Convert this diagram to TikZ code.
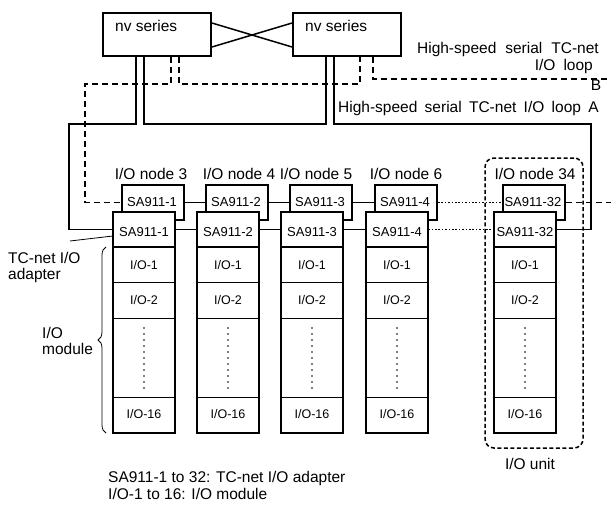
\documentclass[tikz,border=0pt]{standalone}
\usepackage{fontspec}
\setmainfont{Liberation Sans}
\usetikzlibrary{decorations.pathreplacing,calc}
\begin{document}
\begin{tikzpicture}[x=1pt,y=-1pt,
  thickbox/.style={draw, line width=1.9pt, fill=white, inner sep=0pt},
  conn/.style={line width=1.5pt},
  dconn/.style={line width=1.5pt, dash pattern=on 6pt off 4pt},
  dotconn/.style={line width=1.8pt, dash pattern=on 1.6pt off 1.8pt},
  big/.style={font=\fontsize{15.5}{18}\selectfont, inner sep=0pt},
  sa/.style={font=\fontsize{13}{15}\selectfont, inner sep=0pt, anchor=base},
  io/.style={font=\fontsize{12.5}{15}\selectfont, inner sep=0pt, anchor=base},
  sep/.style={line width=1pt},
]
\fill[white] (0,0) rectangle (611,506);
\useasboundingbox (0,0) rectangle (611,506);

% nv series boxes
\node[thickbox, minimum width=108pt, minimum height=43pt] (nv1) at (157,34.5) {};
\node[thickbox, minimum width=108pt, minimum height=43pt] (nv2) at (347,34.5) {};
\node[big, anchor=base west] (nv1t) at (115,31) {nv series};
\node[big, anchor=base west] (nv2t) at (305,31) {nv series};
\draw[conn] ([yshift=11.5pt]nv1.east) -- ([yshift=-12.5pt]nv2.west);
\draw[conn] ([yshift=-12.5pt]nv1.east) -- ([yshift=11.5pt]nv2.west);

% loop labels
\node[big, anchor=base east] (hs1) at (599,53) {High-speed\hspace{9pt}serial\hspace{9pt}TC-net};
\node[big, anchor=base east] (hs2) at (593,70) {I/O\hspace{8pt}loop};
\node[big, anchor=base] (Bl) at (596,90) {B};
\node[big, anchor=base west] (hsA) at (338,112) {High-speed\hspace{7.3pt}serial\hspace{7.3pt}TC-net\hspace{7.3pt}I/O\hspace{7.3pt}loop\hspace{7.3pt}A};

% columns
\foreach \L/\n/\t/\k/\lx in {113/1/1/3/151, 197/2/2/4/239, 281/3/3/5/316, 366/4/4/6/406, 494/5/32/34/535} {
  \node[thickbox, minimum width=62pt, minimum height=35pt] (u\n) at ({\L+40},202.5) {};
  \node[sa] (ut\n) at ({\L+39},206) {SA911-\t};
  \node[thickbox, minimum width=62pt, minimum height=221pt] (c\n) at ({\L+31},322.5) {};
  \node[inner sep=0pt, minimum width=62pt, minimum height=35pt] (l\n) at ({\L+31},229.5) {};
  \node[sa] (lt\n) at ({\L+31},236) {SA911-\t};
  \draw[line width=1.5pt] (\L,247) -- ({\L+62},247);
  \draw[sep] (\L,282) -- ({\L+62},282);
  \draw[sep] (\L,318) -- ({\L+62},318);
  \draw[sep] (\L,397) -- ({\L+62},397);
  \node[io] (a\n) at ({\L+31},269) {I/O-1};
  \node[io] (b\n) at ({\L+31},304) {I/O-2};
  \node[io] (d\n) at ({\L+31},418) {I/O-16};
  \draw[line width=1.9pt, dash pattern=on 0pt off 6pt, line cap=round] ({\L+31},328) -- ({\L+31},388);
  \node[big, anchor=base] (nl\n) at (\lx,179) {I/O node \k};
}

% connections between adapters
\foreach \a/\b in {1/2,2/3,3/4} {
  \draw[conn] (u\a) -- (u\b);
  \draw[conn] (l\a) -- (l\b);
}
\draw[dotconn] (u4) -- (u5);
\draw[dotconn] (l4) -- (l5);

% loop A
\draw[conn] ([xshift=-21pt]nv1.south) -- ++(0,67) -| ([xshift=-44pt]l1.west) -- (l1.west);
\draw[conn] ([xshift=-13pt]nv1.south) -- ++(0,67) -| ([xshift=-21pt]nv2.south);
\draw[conn] ([xshift=-13pt]nv2.south) -- ++(0,67) -| ([xshift=35pt]l5.east) -- (l5.east);

% loop B
\draw[dconn] ([xshift=14pt]nv1.south) -- ++(0,27) -| ([xshift=-36pt]u1.west) -- (u1.west);
\draw[dconn] ([xshift=22pt]nv1.south) -- ++(0,27) -| ([xshift=13pt]nv2.south);
\coordinate (Bend) at (607,79);
\draw[dconn] ([xshift=26pt]nv2.south) |- (Bend);
\coordinate (rightend) at (611,202.5);
\draw[dconn] (u5) -- (rightend);

% I/O unit
\node[draw, line width=1.5pt, dash pattern=on 4pt off 2.5pt, rounded corners=9pt, minimum width=98pt, minimum height=290pt, inner sep=0pt] (unit) at (534,303) {};
\node[big, anchor=base] (unitt) at (530,469) {I/O unit};

% left labels
\node[big, anchor=base west] (tca1) at (8,263) {TC-net I/O};
\node[big, anchor=base west] (tca2) at (8,279) {adapter};
\coordinate (tcaend) at (70,241);
\draw[line width=0.8pt] (tcaend) -- ([yshift=-6.5pt]l1.west);
\node[big, anchor=base west] (iom1) at (42,338) {I/O};
\node[big, anchor=base west] (iom2) at (42,354) {module};
\draw[line width=0.8pt, decorate, decoration={brace, amplitude=8pt}] (106,433) -- (106,247);

% legend
\node[big, anchor=base west] (leg1) at (108,482) {SA911-1 to 32: TC-net I/O adapter};
\node[big, anchor=base west] (leg2) at (108,499) {I/O-1 to 16: I/O module};
\end{tikzpicture}
\end{document}
